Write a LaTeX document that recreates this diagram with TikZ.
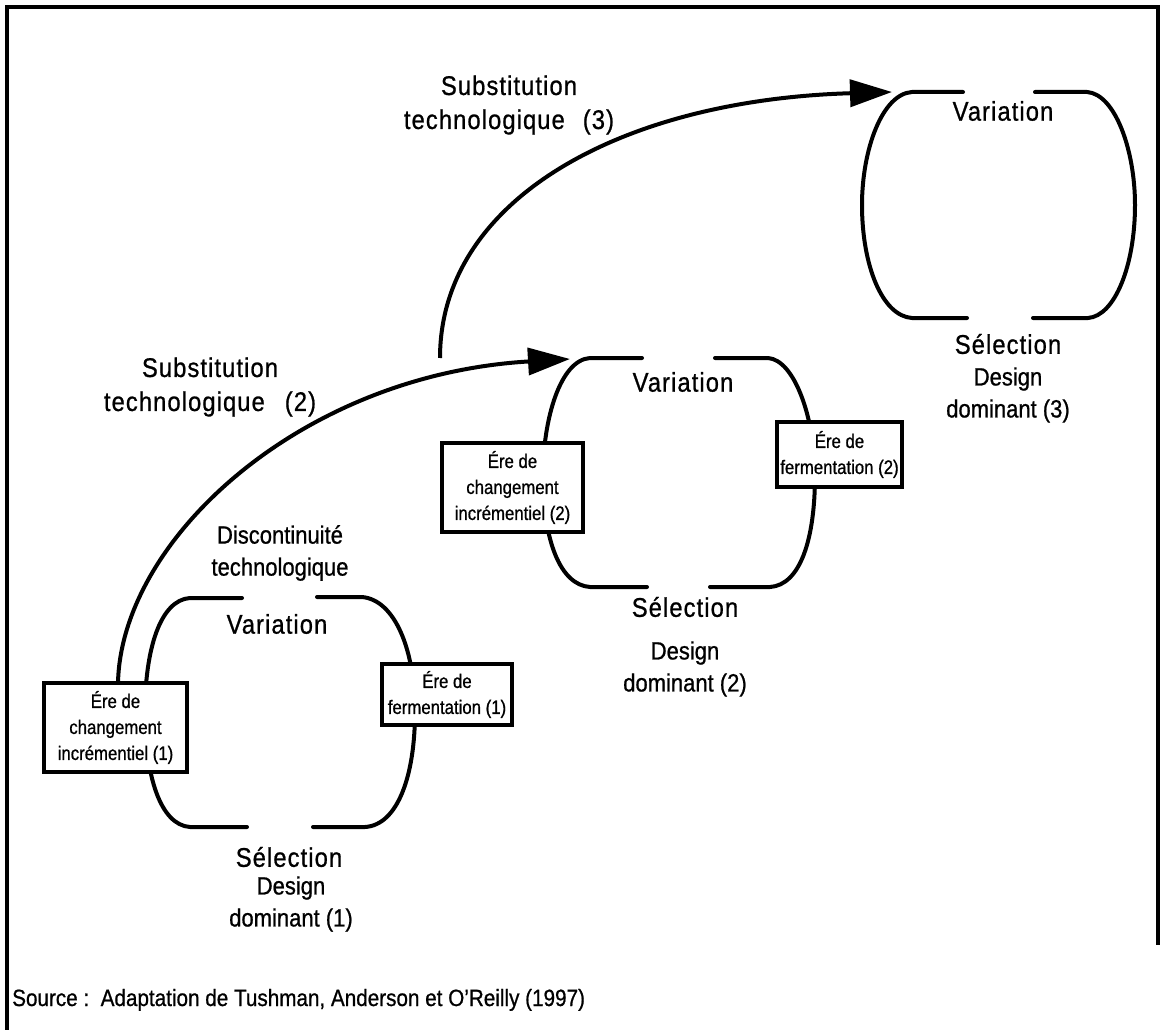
\documentclass[tikz,border=0pt]{standalone}
\usepackage{fontspec}
\setmainfont{Liberation Sans}
\newfontfamily\lsfont[LetterSpace=4,FakeStretch=0.88,FakeBold=0.8]{Liberation Sans}
\newfontfamily\narrowfont[FakeStretch=0.88,FakeBold=0.8]{Liberation Sans}
\newfontfamily\boxnarrowfont[FakeStretch=0.86,FakeBold=0.8]{Liberation Sans}
\usetikzlibrary{arrows.meta}
\newcommand\biglabfont{\lsfont\fontsize{27}{34}\selectfont}
\newcommand\midlabfont{\narrowfont\fontsize{25}{32}\selectfont}
\newcommand\boxtxtfont{\boxnarrowfont\fontsize{19.5}{26}\selectfont}
\newcommand\srcfont{\narrowfont\fontsize{23.5}{25}\selectfont}
\tikzset{
  loopline/.style={line width=4pt, line cap=round},
  subarrow/.style={line width=4pt, -{Triangle[length=42pt,width=27pt]}},
  erabox/.style={draw, line width=3.2pt, fill=white, align=center, inner sep=0pt, font=\boxtxtfont},
  biglab/.style={font=\biglabfont, align=center, inner sep=0pt},
  midlab/.style={font=\midlabfont, align=center, inner sep=0pt},
  frameline/.style={line width=3.4pt}
}
\begin{document}
\begin{tikzpicture}[x=1pt,y=-1pt]
\path[use as bounding box] (0,0) rectangle (1162,1030);
% frame
\coordinate (fa) at (7,1030);
\coordinate (fb) at (7,7);
\coordinate (fc) at (1158,7);
\coordinate (fd) at (1158,945);
\draw[frameline] (fa) -- (fb) -- (fc) -- (fd);

% loop 1
\draw[loopline] (242,598) -- (190,598) .. controls (160,600) and (145,650) .. (145,712) .. controls (145,775) and (160,825) .. (190,827) -- (247,827);
\draw[loopline] (317,597) -- (362,597) .. controls (395,600) and (415,650) .. (415,712) .. controls (415,775) and (398,825) .. (365,827) -- (313,827);
% loop 2
\draw[loopline] (642,358) -- (590,358) .. controls (560,360) and (543,420) .. (543,475) .. controls (543,540) and (560,585) .. (590,587) -- (647,587);
\draw[loopline] (715,358) -- (768,358) .. controls (795,360) and (815,420) .. (815,475) .. controls (815,540) and (800,585) .. (770,587) -- (710,587);
% loop 3
\draw[loopline] (963,92) -- (912,92) .. controls (882,94) and (862,150) .. (862,205) .. controls (862,265) and (882,316) .. (912,318) -- (967,318);
\draw[loopline] (1035,92) -- (1087,92) .. controls (1115,94) and (1135,150) .. (1135,205) .. controls (1135,265) and (1115,316) .. (1088,318) -- (1033,318);

% arrows
\coordinate (s2) at (118,683);
\coordinate (t2) at (570,359);
\coordinate (s3) at (440,358);
\coordinate (t3) at (892,92);
\draw[subarrow] (s2) .. controls (121,540) and (300,375) .. (t2);
\draw[subarrow] (s3) .. controls (440,200) and (620,100) .. (t3);

% boxes
\node[erabox, minimum width=143pt, minimum height=89pt] (ecb1) at (115.5,727.5) {Ére de\\changement\\incrémentiel (1)};
\node[erabox, minimum width=130pt, minimum height=61pt] (efb1) at (447,694.5) {Ére de\\fermentation (1)};
\node[erabox, minimum width=141pt, minimum height=89pt] (ecb2) at (512.5,487.5) {Ére de\\changement\\incrémentiel (2)};
\node[erabox, minimum width=125pt, minimum height=65pt] (efb2) at (839.5,454.5) {Ére de\\fermentation (2)};

% labels
\node[biglab] (sub3) at (509,105) {Substitution\\technologique\hspace{18pt}(3)};
\node[biglab] (sub2) at (210,387) {Substitution\\technologique\hspace{20pt}(2)};
\node[midlab] (disc) at (280,553) {Discontinuité\\technologique};

\node[biglab] (var1) at (277,624) {Variation};
\node[biglab] (var2) at (683,382) {Variation};
\node[biglab] (var3) at (1003,111) {Variation};

\node[biglab] (sel1) at (289,857) {Sélection};
\node[biglab] (sel2) at (685,607) {Sélection};
\node[biglab] (sel3) at (1008,344) {Sélection};

\node[midlab] (dd1) at (291,904) {Design\\dominant (1)};
\node[midlab] (dd2) at (685,669) {Design\\dominant (2)};
\node[midlab] (dd3) at (1008,395) {Design\\dominant (3)};

\node[font=\srcfont, anchor=base west, inner sep=0pt] (src) at (12,1006) {Source :\ \ Adaptation de Tushman, Anderson et O’Reilly (1997)};
\end{tikzpicture}
\end{document}
